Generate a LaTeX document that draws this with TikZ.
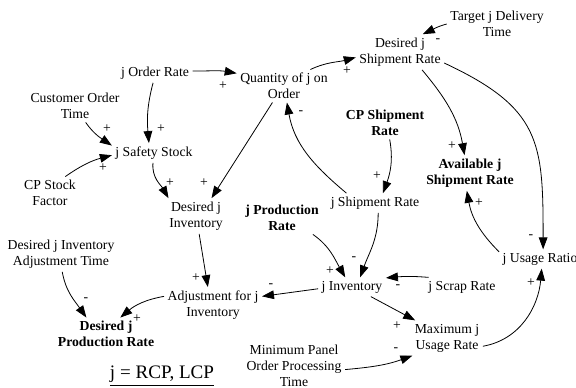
\documentclass[tikz,border=0pt]{standalone}
\usepackage{fontspec}
\setmainfont{Liberation Serif}
\usetikzlibrary{arrows.meta}
\begin{document}
\begin{tikzpicture}[x=0.75pt,y=-0.75pt,
    var/.style={align=center,inner sep=2.5pt,font=\fontsize{10.3}{12}\selectfont},
    key/.style={var,font=\fontsize{10.3}{12}\selectfont\bfseries},
    pol/.style={inner sep=0pt,font=\fontsize{10.3}{12}\selectfont},
    note/.style={inner sep=1pt,font=\fontsize{14.3}{16}\selectfont},
    link/.style={-{Triangle[length=9pt,width=6.5pt]},line width=0.6pt}]
  \useasboundingbox (0,0) rectangle (576,388);
  \draw
    (497,24) node[var] (tdt){Target j Delivery\\Time}
    (400,52) node[var] (dsr){Desired j\\Shipment Rate}
    (284,86) node[var] (qoo){Quantity of j on\\Order}
    (155,73) node[var] (jor){j Order Rate}
    (75,106) node[var] (cot){Customer Order\\Time}
    (154,153) node[var] (jss){j Safety Stock}
    (50,193) node[var] (csf){CP Stock\\Factor}
    (196,216) node[var] (dji){Desired j\\Inventory}
    (282,218) node[key] (jpr){j Production\\Rate}
    (385,123) node[key] (csr){CP Shipment\\Rate}
    (470,173) node[key] (asr){Available j\\Shipment Rate}
    (375,203) node[var] (jsr){j Shipment Rate}
    (540,259) node[var] (jur){j Usage Ratio}
    (61,254) node[var] (iat){Desired j Inventory\\Adjustment Time}
    (213,305) node[var] (adj){Adjustment for j\\Inventory}
    (352,287) node[var] (jinv){j Inventory}
    (462,287) node[var] (jsc){j Scrap Rate}
    (447,338) node[var] (mur){Maximum j\\Usage Rate}
    (294,366) node[var] (mpt){Minimum Panel\\Order Processing\\Time}
    (106,334) node[key] (dpr){Desired j\\Production Rate}
    (162,376) node[note] (jdef){\underline{j = RCP, LCP}};
  % polarities
  \path
    (223,86) node[pol] (p1){+}
    (161,129) node[pol] (p2){+}
    (107,129) node[pol] (p3){+}
    (103,168) node[pol] (p4){+}
    (170,183) node[pol] (p5){+}
    (204,183) node[pol] (p6){+}
    (196,278) node[pol] (p7){+}
    (137,319) node[pol] (p8){+}
    (86,300) node[pol] (p9){-}
    (271,286) node[pol] (p10){-}
    (330,271) node[pol] (p11){+}
    (354,259) node[pol] (p12){-}
    (301,113) node[pol] (p13){-}
    (377,176) node[pol] (p14){+}
    (347,71) node[pol] (p15){+}
    (438,41) node[pol] (p16){-}
    (452,146) node[pol] (p17){+}
    (531,237) node[pol] (p18){-}
    (479,203) node[pol] (p19){+}
    (398,287) node[pol] (p20){-}
    (397,326) node[pol] (p21){+}
    (396,350) node[pol] (p22){-}
    (531,283) node[pol] (p23){+};
  \begin{scope}[link]
    \draw (jor.3) to[out=0,in=170] (qoo.165);
    \draw (jor.-101) to[out=-105,in=95] (jss.117);
    \draw (cot.-57) to[out=-55,in=146] (jss.170);
    \draw (csf.47) to[out=35,in=195] (jss.183);
    \draw (jss.-96) to[out=-95,in=120] (dji.147);
    \draw (qoo.-125) -- (dji.49);
    \draw (dji.-80) -- (adj.106);
    \draw (adj.170) to[out=190,in=40] (dpr.49);
    \draw (iat.-86) to[out=-80,in=125] (dpr.140);
    \draw (jinv.183) -- (adj.10);
    \draw (jpr.-28) to[out=-35,in=120] (jinv.125);
    \draw (jsr.-72) to[out=-90,in=70] (jinv.50);
    \draw (jsr.161) to[out=140,in=-80] (qoo.-80);
    \draw (csr.-74) to[out=-80,in=70] (jsr.51);
    \draw (qoo.32) to[out=25,in=195] (dsr.187);
    \draw (tdt.180) to[out=195,in=25] (dsr.38);
    \draw (dsr.-39) to[out=-50,in=100] (asr.107);
    \draw (dsr.-14) to[out=-25,in=90,looseness=1.3] (jur.72);
    \draw (jur.170) to[out=135,in=-80] (asr.-100);
    \draw (jsc.164) to[out=175,in=5] (jinv.15);
    \draw (jinv.-27) -- (mur.151);
    \draw (mpt.-4) to[out=5,in=200] (mur.207);
    \draw (mur.-13) to[out=10,in=-95] (jur.-80);
  \end{scope}
\end{tikzpicture}
\end{document}
